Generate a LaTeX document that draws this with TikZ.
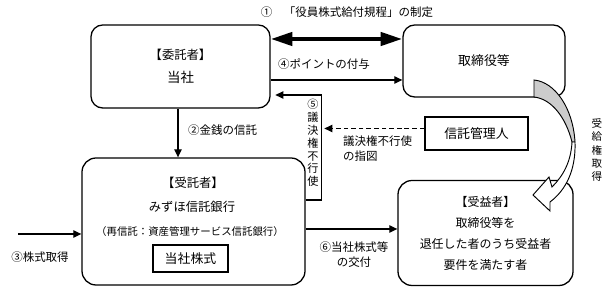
\documentclass[tikz,border=0pt]{standalone}
\usepackage{fontspec}
\setmainfont{Noto Sans CJK JP}
\usetikzlibrary{arrows.meta,positioning,calc}

\begin{document}
\begin{tikzpicture}[
  x=0.03cm,y=-0.03cm,
  font=\fontsize{10.5}{19.6}\selectfont,
  rbox/.style={draw,line width=1.1pt,rounded corners=10pt,
               align=center,inner sep=0pt},
  sbox/.style={draw,line width=1.1pt,align=center,inner sep=0pt,
               font=\fontsize{11}{13}\selectfont},
  lbl/.style={font=\fontsize{9.8}{12.8}\selectfont,inner sep=0pt},
  vlbl/.style={font=\fontsize{9.5}{10.9}\selectfont,inner sep=0pt,
               align=center},
  arr/.style={-{Triangle[length=2.4mm,width=2.2mm]},line width=1.1pt},
  darr/.style={arr,dash pattern=on 4pt off 2.5pt},
  bigarr/.style={{Triangle[length=6.5mm,width=3.9mm]}-{Triangle[length=6.5mm,width=3.9mm]},
                 line width=3.6pt},
]
  \useasboundingbox (0,0) rectangle (611,293);

  % boxes
  \node[rbox,minimum width=5.37cm,minimum height=2.49cm] (itaku) at (180.5,66.5)
    {【委託者】\\{\fontsize{11.5}{19.6}\selectfont 当社}};
  \node[rbox,minimum width=4.86cm,minimum height=2.16cm] (torishimari) at (484,61)
    {{\fontsize{11}{13}\selectfont 取締役等}};
  \node[rbox,rounded corners=12pt,minimum width=6.69cm,minimum height=3.81cm]
    (jutaku) at (193.5,221.5) {};
  \node[rbox,rounded corners=12pt,minimum width=5.25cm,minimum height=3.15cm,
        font=\fontsize{10.2}{17.9}\selectfont]
    (juekisha) at (485.5,233)
    {【受益者】\\取締役等を\\退任した者のうち受益者\\要件を満たす者};
  \node[sbox,minimum width=3.09cm,minimum height=0.99cm] (kanri) at (476.5,133.5)
    {信託管理人};
  \node[sbox,minimum width=2.25cm,minimum height=0.81cm] (kabu) at (190.5,258.5)
    {当社株式};

  % text in the trustee box
  \node[inner sep=0pt] (jt1) at (193,183) {【受託者】};
  \node[inner sep=0pt] (jt2) at (192,207) {みずほ信託銀行};
  \node[inner sep=0pt,font=\fontsize{8.9}{11}\selectfont] (jt3) at (190,232)
    {（再信託：資産管理サービス信託銀行）};

  % connectors
  \coordinate (a1) at ($(itaku.east)+(0,-27.5)$);
  \draw[bigarr] (a1) -- (a1 -| torishimari.west);
  \coordinate (a4) at ($(itaku.east)+(0,13.5)$);
  \draw[arr] (a4) -- (a4 -| torishimari.west);
  \draw[arr] ($(itaku.south)+(-2.5,0)$) -- ($(itaku.south |- jutaku.north)+(-2.5,0)$);
  \coordinate (a5) at ($(jutaku.east)+(0,-21.5)$);
  \draw[arr,shorten >=4pt] (a5) -- ++(16,0) |- ($(itaku.east)+(0,28.5)$);
  \coordinate (a7) at ($(kanri.west)+(0,-5)$);
  \draw[darr] (a7) -- ++(-100,0);
  \coordinate (a3) at (18,234);
  \draw[arr] (a3) -- (a3 -| jutaku.west);
  \coordinate (a6) at ($(jutaku.east)+(0,7.5)$);
  \draw[arr] (a6) -- (a6 -| juekisha.west);

  % curved arrow
  \filldraw[fill=gray!40,line width=0.8pt] (534,80) -- (534,97)
    .. controls (552,99) and (566,118) .. (572,142) -- (575,142)
    .. controls (573,108) and (555,82) .. (534,80) -- cycle;
  \filldraw[fill=white,line width=0.8pt] (575,142)
    .. controls (576,170) and (566,190) .. (550,202) -- (550,211)
    -- (533,195) -- (549,177) -- (552,187)
    .. controls (563,176) and (571,162) .. (572,142) -- cycle;

  % labels
  \node[lbl] (l1) at (347,12) {①　「役員株式給付規程」の制定};
  \node[lbl] (l4) at (324,64) {④ポイントの付与};
  \node[lbl,anchor=west] (l2) at (188,130) {②金銭の信託};
  \node[vlbl] (l5) at (313,143) {⑤\\議\\決\\権\\不\\行\\使};
  \node[lbl,align=left,anchor=north west] (l7) at (343,136)
    {議決権不行使\\の指図};
  \node[lbl,align=center] (l6) at (354,255) {⑥当社株式等\\の交付};
  \node[lbl] (l3) at (40,257) {③株式取得};
  \node[vlbl,font=\fontsize{9}{11.5}\selectfont] (l8) at (597,150)
    {受\\給\\権\\取\\得};
\end{tikzpicture}
\end{document}
